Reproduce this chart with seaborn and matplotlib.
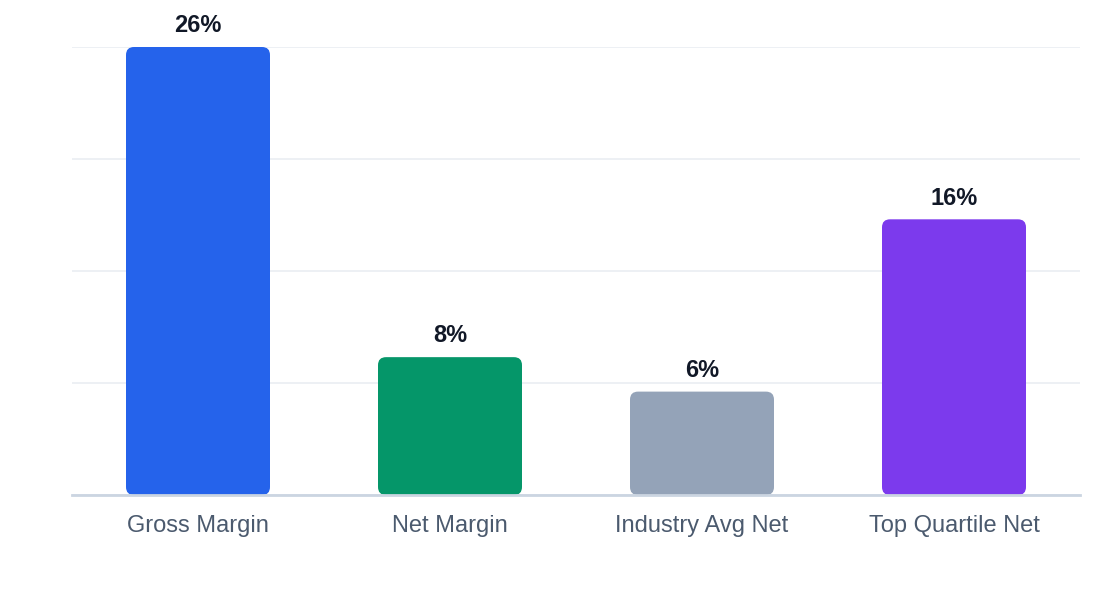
import matplotlib
matplotlib.use("Agg")
import matplotlib.pyplot as plt
import seaborn as sns
import pandas as pd
from matplotlib.patches import FancyBboxPatch

categories = ["Gross Margin", "Net Margin", "Industry Avg Net", "Top Quartile Net"]
values = [26, 8, 6, 16]
colors = ["#2563eb", "#059669", "#94a3b8", "#7c3aed"]

df = pd.DataFrame({"metric": categories, "value": values})

sns.set_style("white")
plt.rcParams["font.family"] = ["Liberation Sans", "DejaVu Sans"]

fig = plt.figure(figsize=(11.2, 6), dpi=100)
ax = fig.add_axes([72 / 1120, 1 - 495 / 600, 1008 / 1120, 448 / 600])

sns.barplot(data=df, x="metric", y="value", hue="metric", palette=colors,
            legend=False, width=144 / 252, ax=ax, saturation=1)

ax.set_ylim(0, 26)
ax.set_xlim(-0.5, len(categories) - 0.5)
ax.set_yticks([0, 6.5, 13, 19.5, 26])
ax.yaxis.grid(True, color="#eaedf2", linewidth=1.2)
ax.set_axisbelow(True)
ax.tick_params(axis="y", left=False, labelleft=False)
ax.tick_params(axis="x", bottom=False, labelsize=17, labelcolor="#4b5a6e", pad=11)
ax.set_xlabel("")
ax.set_ylabel("")
for s in ["top", "right", "left"]:
    ax.spines[s].set_visible(False)
ax.spines["bottom"].set_color("#cbd5e1")
ax.spines["bottom"].set_linewidth(2)
ax.spines["bottom"].set_zorder(5)

# rounded corners: px per data unit in x and y
px_x = 1008 / len(categories)
px_y = 448 / 26
radius_px = 8
for patch in list(ax.patches):
    x0, y0 = patch.get_x(), patch.get_y()
    w, h = patch.get_width(), patch.get_height()
    fb = FancyBboxPatch((x0, y0), w, h,
                        boxstyle=f"round,pad=0,rounding_size={radius_px / px_x}",
                        mutation_aspect=px_x / px_y,
                        facecolor=patch.get_facecolor(), edgecolor="none", zorder=3)
    patch.remove()
    ax.add_patch(fb)

for i, v in enumerate(values):
    ax.annotate(f"{v}%", (i, v), xytext=(0, 7), textcoords="offset points",
                ha="center", va="bottom", fontsize=17, fontweight="bold",
                color="#111827")

fig.savefig("out.png", dpi=100)
